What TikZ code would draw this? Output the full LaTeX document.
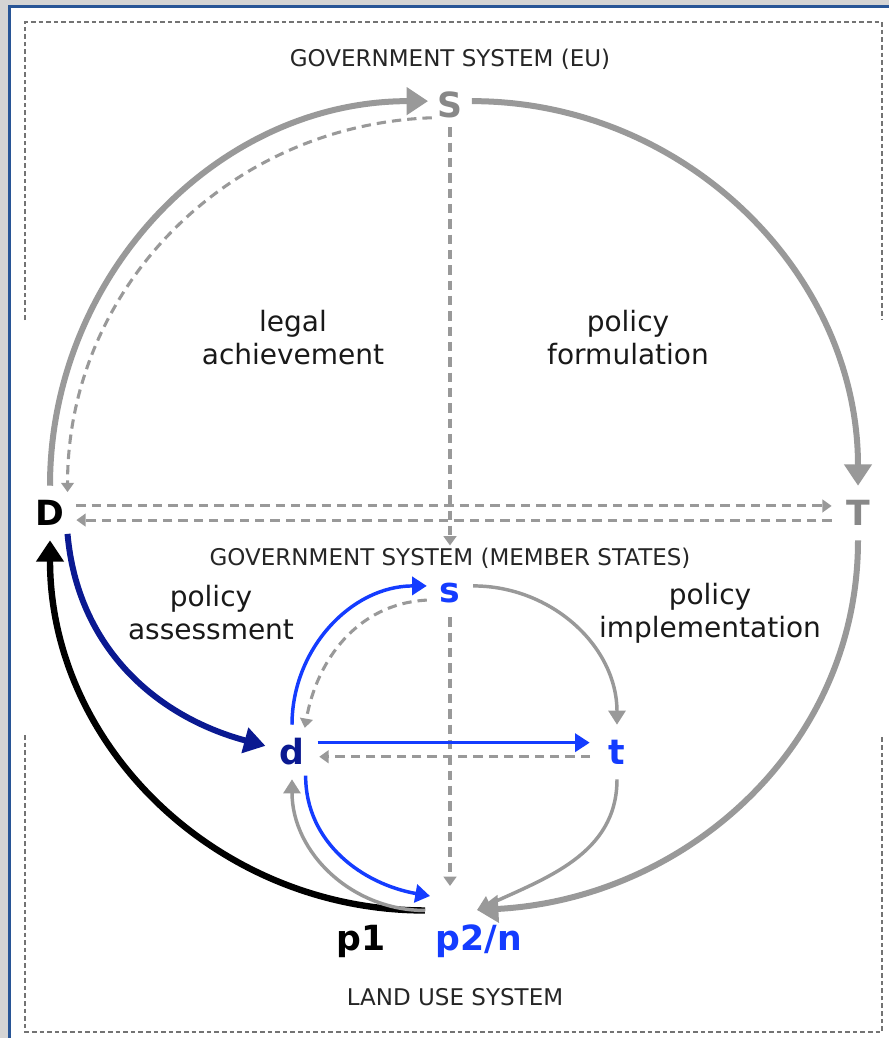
\documentclass[tikz,border=0pt]{standalone}
\usepackage{fontspec}
\setmainfont{DejaVu Sans}
\usetikzlibrary{arrows.meta,calc}

\definecolor{arcgray}{RGB}{153,153,153}
\definecolor{lettergray}{RGB}{136,136,136}
\definecolor{vblue}{RGB}{20,60,255}
\definecolor{navy}{RGB}{10,25,145}
\definecolor{framegray}{RGB}{212,212,212}
\definecolor{frameblue}{RGB}{40,85,150}
\definecolor{boxgray}{RGB}{115,115,115}

\begin{document}
\begin{tikzpicture}[x=0.75pt,y=-0.75pt,
  header/.style={font=\fontsize{17.25pt}{20pt}\selectfont, inner sep=1.5pt, text=black!85},
  lab/.style={font=\fontsize{21pt}{24.75pt}\selectfont, align=center, text=black!90, inner sep=0pt},
  letter/.style={circle, inner sep=0pt, font=\fontsize{26pt}{29pt}\selectfont\bfseries},
  plabel/.style={inner sep=0pt, anchor=base, font=\fontsize{26pt}{30pt}\selectfont\bfseries},
  boxline/.style={draw=boxgray, line width=1.4pt, dash pattern=on 3.4pt off 2.3pt},
  bigarc/.style={draw=arcgray, line width=4.5pt, -{Triangle[length=16pt,width=20pt]}},
  dashline/.style={draw=arcgray, line width=2.3pt, dash pattern=on 7pt off 4.5pt, -{Triangle[length=7pt,width=9.5pt]}},
  innergray/.style={draw=arcgray, line width=2.6pt, -{Triangle[length=10.5pt,width=12.5pt]}},
  innerblue/.style={draw=vblue, line width=2.6pt, -{Triangle[length=11pt,width=13.5pt]}},
  navyline/.style={draw=navy, line width=4.5pt, -{Triangle[length=16pt,width=19pt]}},
  blackline/.style={draw=black, line width=4.8pt, -{Triangle[length=16pt,width=20pt]}}
]
\useasboundingbox (0,0) rectangle (889,1038);

% window frame
\fill[framegray] (0,0) rectangle (889,1038);
\fill[white] (8,5) rectangle (889,1038);
\fill[frameblue] (8,5) rectangle (11,1038);
\fill[frameblue] (8,5) rectangle (889,8);

% system boundaries
\draw[boxline] (25,320) -- (25,22) -- (882,22) -- (882,320);
\draw[boxline] (25,735) -- (25,1032) -- (882,1032) -- (882,735);

% headings
\node[header] (euh) at (450,59) {GOVERNMENT SYSTEM (EU)};
\node[header] (msh) at (450,558) {GOVERNMENT SYSTEM (MEMBER STATES)};
\node[header] (luh) at (455,997) {LAND USE SYSTEM};

% quadrant labels
\node[lab] (legal) at (293,338) {legal\\achievement};
\node[lab] (formul) at (628,338) {policy\\formulation};
\node[lab] (assess) at (211,613) {policy\\assessment};
\node[lab] (implem) at (710,613) {policy\\implementation};

% EU level
\node[letter, minimum size=33pt, text=lettergray] (S) at (450,105) {S};
\node[letter, minimum size=40.5pt, text=black] (D) at (50,513) {D};
\node[letter, minimum size=40.5pt, text=lettergray] (T) at (858,513) {T};

% member state level
\node[letter, minimum size=36pt, text=vblue] (s) at (450,593) {s};
\node[letter, minimum size=40.5pt, text=navy] (d) at (292,752) {d};
\node[letter, minimum size=40.5pt, text=vblue] (t) at (617,752) {t};

% land use
\node[plabel, text=black] (p1) at (361,950) {p1};
\node[plabel, text=vblue] (p2n) at (479,950) {p2/n};
\coordinate (landtop) at (450,886);

% EU cycle
\draw[bigarc] (D.north) to[out=90,in=180] (S.170);
\draw[bigarc] (S.10) to[out=0,in=90] (T.north);
\draw[bigarc] (T.south) to[out=-90,in=3] ($(p2n.north)+(-2,-14)$);
\draw[dashline] (S.215) to[out=182,in=90] (D.50);
\draw[dashline] (D.15) -- (T.165);
\draw[dashline] (T.195) -- (D.-15);
\draw[dashline] (S.south) -- (msh.north);

% member state cycle
\draw[dashline] (s.south) -- (landtop);
\draw[innerblue] (d.north) to[out=90,in=180] (s.163);
\draw[dashline] (s.197) to[out=183,in=80] (d.62);
\draw[innergray] (s.17) to[out=0,in=90] (t.north);
\draw[innerblue] (d.20) -- (d.20 -| t.west);
\draw[dashline] (t.190) -- (t.190 -| d.east);
\draw[innerblue] (d.-60) to[out=-90,in=170] ($(p2n.north)+(-49,-28)$);
\draw[innergray] (t.south) to[out=-90,in=25] ($(p2n.north)+(-2,-14)$);

% links between levels
\draw[navyline] (D.-50) to[out=-85,in=165] (d.167);
\draw[blackline] ($(p1.north)+(64,-14)$) to[out=180,in=-90] (D.south);
\draw[innergray] ($(p1.north)+(64,-14)$) to[out=180,in=-90] (d.south);
\end{tikzpicture}
\end{document}
